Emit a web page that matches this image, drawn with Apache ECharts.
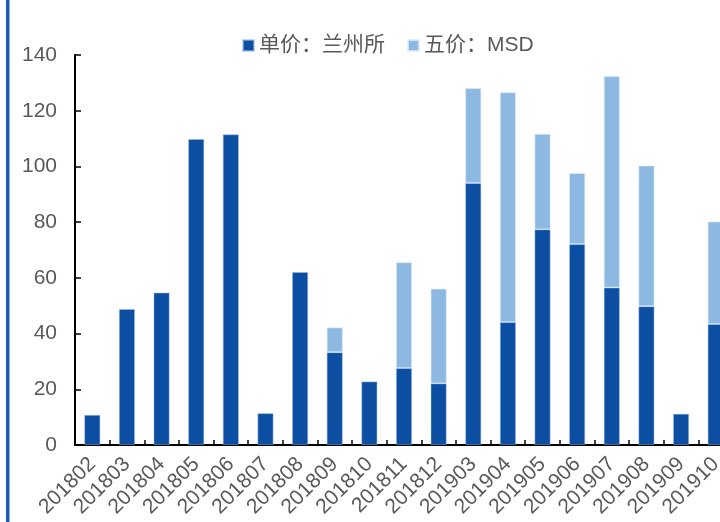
<!DOCTYPE html>
<html>
<head>
<meta charset="utf-8">
<script src="https://cdn.jsdelivr.net/npm/echarts@6/dist/echarts.min.js"></script>
<style>
html,body{margin:0;padding:0;background:#fff;}
#chart{width:720px;height:522px;}
</style>
</head>
<body>
<div id="chart"></div>
<script>
const categories = ['201802','201803','201804','201805','201806','201807','201808','201809','201810','201811','201812','201903','201904','201905','201906','201907','201908','201909','201910'];
const lanzhou = [10.8, 48.8, 54.7, 109.8, 111.5, 11.4, 62.1, 33.3, 22.8, 27.6, 22.1, 94.0, 44.1, 77.4, 72.1, 56.5, 49.8, 11.2, 43.4];
const msd = [null, null, null, null, null, null, null, 8.9, null, 38.0, 34.0, 34.1, 82.5, 34.3, 25.5, 75.9, 50.5, null, 36.8];
const seriesNames = ['单价：兰州所', '五价：MSD'];
const yTicks = {min: 0, max: 140, interval: 20};

const chart = echarts.init(document.getElementById('chart'), null, {renderer: 'canvas'});
const textColor = '#595959';
const font = '"Liberation Sans", Arial, "Noto Sans CJK SC", sans-serif';
chart.setOption({
  animation: false,
  backgroundColor: '#fff',
  graphic: [{
    type: 'rect',
    shape: {x: 6, y: 0, width: 3.5, height: 522},
    style: {fill: '#1a5cb0'}
  }],
  legend: {
    top: 30,
    left: 237,
    itemWidth: 11,
    itemHeight: 11,
    itemGap: 22,
    icon: 'rect',
    textStyle: {color: textColor, fontSize: 21, fontFamily: font},
    data: seriesNames
  },
  grid: {left: 75, right: -13, top: 55, bottom: 77, containLabel: false, outerBoundsMode: 'none'},
  xAxis: {
    type: 'category',
    data: categories,
    boundaryGap: true,
    axisLine: {show: true, lineStyle: {color: '#000', width: 2}},
    axisTick: {show: true, inside: true, length: 5, alignWithLabel: false, lineStyle: {color: '#000', width: 1.5}},
    axisLabel: {rotate: 45, color: textColor, fontSize: 21, fontFamily: font, margin: 16, interval: 0, hideOverlap: false}
  },
  yAxis: {
    type: 'value',
    min: yTicks.min, max: yTicks.max, interval: yTicks.interval,
    axisLine: {show: true, lineStyle: {color: '#000', width: 2}},
    axisTick: {show: true, inside: true, length: 6, lineStyle: {color: '#000', width: 1.5}},
    splitLine: {show: false},
    axisLabel: {color: textColor, fontSize: 21, fontFamily: font, margin: 18}
  },
  series: [{
    name: seriesNames[0],
    type: 'bar',
    stack: 'total',
    data: lanzhou,
    barWidth: 16,
    itemStyle: {color: '#0c4ea2', borderColor: 'rgba(160,190,230,0.6)', borderWidth: 0.8}
  }, {
    name: seriesNames[1],
    type: 'bar',
    stack: 'total',
    data: msd,
    barWidth: 16,
    itemStyle: {color: '#8db8e2', borderColor: 'rgba(220,235,250,0.8)', borderWidth: 0.8}
  }]
});
</script>
</body>
</html>
